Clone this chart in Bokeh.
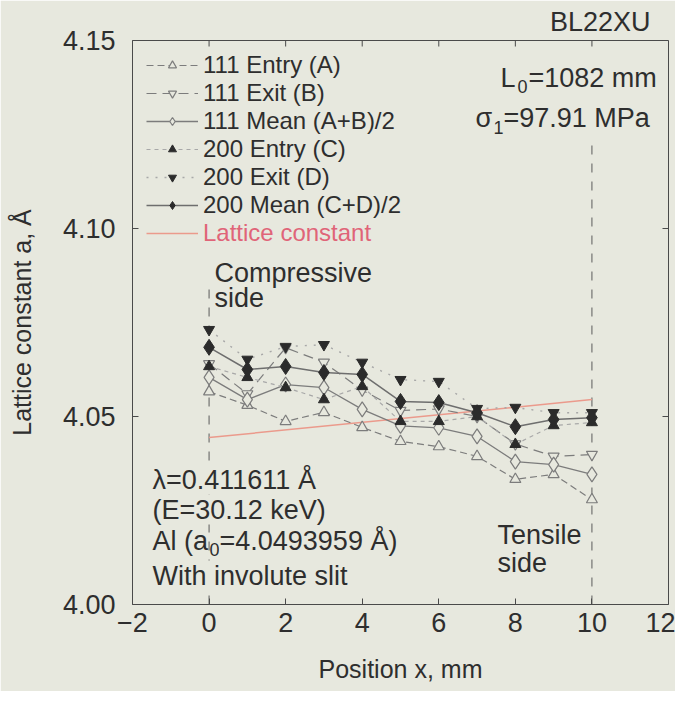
from bokeh.plotting import figure
from bokeh.models import (Range1d, FixedTicker, PrintfTickFormatter,
                          Label, Legend, LegendItem)
from bokeh.embed import file_html
from bokeh.resources import INLINE

# ---------------- data ----------------
position = [0, 1, 2, 3, 4, 5, 6, 7, 8, 9, 10]
entry_111 = [4.0566, 4.0530, 4.0487, 4.0511, 4.0471, 4.0434, 4.0420, 4.0394, 4.0333, 4.0346, 4.0279]
exit_111 = [4.0640, 4.0560, 4.0683, 4.0644, 4.0570, 4.0516, 4.0520, 4.0500, 4.0427, 4.0394, 4.0399]
mean_111 = [4.0604, 4.0545, 4.0585, 4.0577, 4.0519, 4.0475, 4.0470, 4.0447, 4.0380, 4.0372, 4.0346]
entry_200 = [4.0633, 4.0604, 4.0577, 4.0545, 4.0580, 4.0487, 4.0487, 4.0500, 4.0426, 4.0476, 4.0484]
exit_200 = [4.0731, 4.0652, 4.0686, 4.0691, 4.0644, 4.0598, 4.0593, 4.0521, 4.0524, 4.0510, 4.0510]
mean_200 = [4.0684, 4.0625, 4.0633, 4.0617, 4.0612, 4.0540, 4.0537, 4.0510, 4.0473, 4.0492, 4.0497]
lattice_x = [0, 10]
lattice_y = [4.0444, 4.0545]
edge_x = [0, 10]
edge_top = [4.0850, 4.1225]
edge_bottom = [4.0, 4.0]
x_ticks = [-2, 0, 2, 4, 6, 8, 10, 12]
y_ticks = [4.00, 4.05, 4.10, 4.15]
X_MIN, X_MAX = -2, 12
Y_MIN, Y_MAX = 4.0, 4.15

# ---------------- style ----------------
BG = "#e7e8de"
FONT = "Liberation Sans"
TXT = "#2e2e2e"
DARK = "#2b2b2b"
GRAY = "#7c7c7c"
LIGHT = "#a8a8a8"
RED_LINE = "#eb9a8c"
RED_TXT = "#e06478"
FRAME_W, FRAME_H = 536, 564
TICK_PX = 6

p = figure(width=675, height=691, x_range=Range1d(X_MIN, X_MAX), y_range=Range1d(Y_MIN, Y_MAX),
           output_backend="svg", toolbar_location=None,
           min_border_left=132, min_border_right=7, min_border_top=40, min_border_bottom=87)
p.background_fill_color = BG
p.border_fill_color = BG
p.outline_line_color = "#4a4a4a"
p.outline_line_width = 1
p.grid.visible = False

p.title.text = "BL22XU"
p.title.align = "right"
p.title.text_font = FONT
p.title.text_font_size = "27px"
p.title.text_font_style = "normal"
p.title.text_color = TXT
p.title.offset = 18
p.title.standoff = 8

def style_axis(ax):
    ax.axis_line_color = None
    ax.major_tick_in = TICK_PX
    ax.major_tick_out = 0
    ax.major_tick_line_color = "#4a4a4a"
    ax.minor_tick_line_color = None
    ax.major_label_text_font = FONT
    ax.major_label_text_font_size = "27px"
    ax.major_label_text_color = TXT
    ax.axis_label_text_font = FONT
    ax.axis_label_text_font_size = "25px"
    ax.axis_label_text_font_style = "normal"
    ax.axis_label_text_color = TXT

xa = p.xaxis[0]
xa.ticker = FixedTicker(ticks=x_ticks)
xa.axis_label = "Position x, mm"
style_axis(xa)
xa.major_label_standoff = 8
xa.axis_label_standoff = 20

ya = p.yaxis[0]
ya.ticker = FixedTicker(ticks=y_ticks)
ya.formatter = PrintfTickFormatter(format="%.2f")
ya.axis_label = "Lattice constant a, Å"
style_axis(ya)
ya.major_label_standoff = 17
ya.axis_label_standoff = 24

# inward ticks on the top and right frame edges
tick_dy = TICK_PX * (Y_MAX - Y_MIN) / FRAME_H
tick_dx = TICK_PX * (X_MAX - X_MIN) / FRAME_W
p.segment(x0=x_ticks, y0=[Y_MAX] * len(x_ticks), x1=x_ticks,
          y1=[Y_MAX - tick_dy] * len(x_ticks), line_color="#4a4a4a", line_width=1)
p.segment(x0=[X_MAX] * len(y_ticks), y0=y_ticks, x1=[X_MAX - tick_dx] * len(y_ticks),
          y1=y_ticks, line_color="#4a4a4a", line_width=1)

# edge markers (specimen faces)
p.segment(x0=edge_x, y0=edge_bottom, x1=edge_x, y1=edge_top,
          line_color="#5a5a5a", line_width=1, line_dash="9 9")

# lattice constant
r_lat = p.line(lattice_x, lattice_y, line_color=RED_LINE, line_width=1.5)

# series
l_a = p.line(position, entry_111, line_color=GRAY, line_width=1.2, line_dash="7 4")
s_a = p.scatter(position, entry_111, marker="triangle", size=11, fill_color=BG,
                line_color=GRAY, line_width=1.2)
l_b = p.line(position, exit_111, line_color=GRAY, line_width=1.2, line_dash="10 6")
s_b = p.scatter(position, exit_111, marker="inverted_triangle", size=11, fill_color=BG,
                line_color=GRAY, line_width=1.2)
l_ab = p.line(position, mean_111, line_color=GRAY, line_width=1.3)
s_ab = p.scatter(position, mean_111, marker="diamond", size=15, fill_color=BG,
                 line_color=GRAY, line_width=1.2)
l_c = p.line(position, entry_200, line_color=LIGHT, line_width=1.2, line_dash="4 4")
s_c = p.scatter(position, entry_200, marker="triangle", size=11, fill_color=DARK,
                line_color=DARK)
l_d = p.line(position, exit_200, line_color=LIGHT, line_width=1.4, line_dash="2 7")
s_d = p.scatter(position, exit_200, marker="inverted_triangle", size=11, fill_color=DARK,
                line_color=DARK)
l_cd = p.line(position, mean_200, line_color="#6e6e6e", line_width=1.5)
s_cd = p.scatter(position, mean_200, marker="diamond", size=16, fill_color=DARK,
                 line_color=DARK)

leg = Legend(items=[
    LegendItem(label="111 Entry (A)", renderers=[l_a, s_a]),
    LegendItem(label="111 Exit (B)", renderers=[l_b, s_b]),
    LegendItem(label="111 Mean (A+B)/2", renderers=[l_ab, s_ab]),
    LegendItem(label="200 Entry (C)", renderers=[l_c, s_c]),
    LegendItem(label="200 Exit (D)", renderers=[l_d, s_d]),
    LegendItem(label="200 Mean (C+D)/2", renderers=[l_cd, s_cd]),
], location=(14, 385))
leg2 = Legend(items=[LegendItem(label="Lattice constant", renderers=[r_lat])],
              location=(14, 357))
for lg in (leg, leg2):
    lg.margin = 0
    lg.padding = 4
    lg.spacing = 0
    lg.glyph_width = 52
    lg.glyph_height = 20
    lg.label_height = 20
    lg.label_standoff = 5
    lg.label_text_font = FONT
    lg.label_text_font_size = "24px"
    lg.label_text_color = TXT
    lg.background_fill_alpha = 0
    lg.border_line_color = None
leg2.label_text_color = RED_TXT
p.add_layout(leg)
p.add_layout(leg2)

def lab(text, sx, sy, size=27, align="left", color=TXT, bg=None):
    p.add_layout(Label(x=sx, y=sy, x_units="screen", y_units="screen", text=text,
                       text_font=FONT, text_font_size=f"{size}px", text_color=color,
                       text_align=align, text_baseline="middle",
                       background_fill_color=bg))

lab("Compressive", 82, 332)
lab("side", 82, 307)
lab("Tensile", 365, 70)
lab("side", 365, 42)
lab("λ=0.411611 Å", 20, 125, bg=BG)
lab("(E=30.12 keV)", 20, 95, bg=BG)
lab("Al (a", 20, 64, bg=BG)
lab("0", 77, 55, 18)
lab("=4.0493959 Å)", 87, 64, bg=BG)
lab("With involute slit", 20, 29, bg=BG)
lab("L", 368, 527)
lab("0", 385, 518, 18)
lab("=1082 mm", 396, 527)
lab("σ", 343, 487)
lab("1", 361, 477, 18)
lab("=97.91 MPa", 371, 487)

open("out.html", "w").write(file_html(p, INLINE))
